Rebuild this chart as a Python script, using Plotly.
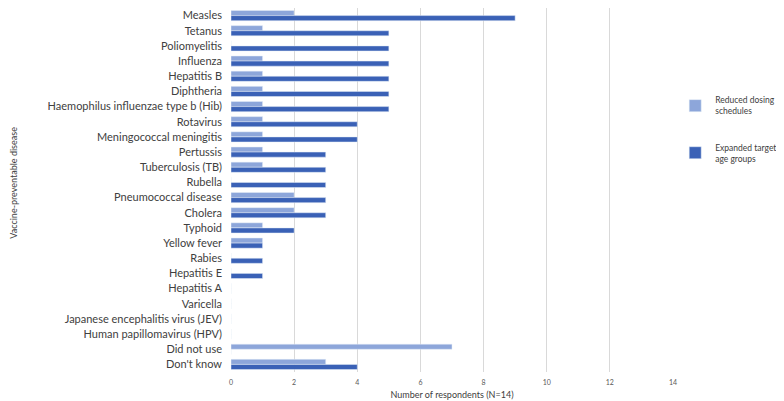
import plotly.graph_objects as go

# Survey data: respondents per disease for each strategy
diseases = [
    "Measles", "Tetanus", "Poliomyelitis", "Influenza", "Hepatitis B", "Diphtheria",
    "Haemophilus influenzae type b (Hib)", "Rotavirus", "Meningococcal meningitis",
    "Pertussis", "Tuberculosis (TB)", "Rubella", "Pneumococcal disease", "Cholera",
    "Typhoid", "Yellow fever", "Rabies", "Hepatitis E", "Hepatitis A", "Varicella",
    "Japanese encephalitis virus (JEV)", "Human papillomavirus (HPV)", "Did not use",
    "Don't know",
]
reduced_dosing = [2, 1, 0, 1, 1, 1, 1, 1, 1, 1, 1, 0, 2, 2, 1, 1, 0, 0, 0, 0, 0, 0, 7, 3]
expanded_age = [9, 5, 5, 5, 5, 5, 5, 4, 4, 3, 3, 3, 3, 3, 2, 1, 1, 1, 0, 0, 0, 0, 0, 4]
x_ticks = [0, 2, 4, 6, 8, 10, 12, 14]

LIGHT = "#8DA6DA"
DARK = "#3A61B6"
TEXT = "#404040"

# the page body adds an 8px margin, so the figure is drawn 8px smaller
W, H = 776, 393
ML, MR, MT, MB = 223, 111, 0, 29

fig = go.Figure()

fig.add_trace(go.Bar(
    y=diseases, x=reduced_dosing, orientation="h",
    name="Reduced dosing<br>schedules", marker_color=LIGHT,
    legendgroup="a",
))
fig.add_trace(go.Bar(
    y=diseases, x=expanded_age, orientation="h",
    name="Expanded target<br>age groups", marker_color=DARK,
    legendgroup="b",
))

fig.update_layout(
    width=W, height=H,
    barmode="group", bargap=0.33, bargroupgap=0,
    plot_bgcolor="white", paper_bgcolor="white",
    font=dict(family="Lato, sans-serif", color=TEXT),
    margin=dict(l=ML, r=MR, t=MT, b=MB, autoexpand=False),
    legend=dict(
        x=1.005, xanchor="left", y=0.78, yanchor="top",
        font=dict(size=8.5, color=TEXT),
        tracegroupgap=22, itemwidth=30,
    ),
    xaxis=dict(
        range=[0, 14], tickvals=x_ticks, automargin=False,
        showgrid=True, gridcolor="#D9D9D9", gridwidth=1,
        zeroline=False, showline=False,
        ticklabelstandoff=5,
        tickfont=dict(size=7, color="#595959"),
        title=dict(text="Number of respondents (N=14)", font=dict(size=9, color=TEXT), standoff=6),
    ),
    yaxis=dict(
        autorange="reversed", automargin=False,
        showgrid=False, zeroline=False, ticks="", ticklen=0,
        ticklabelstandoff=8,
        tickfont=dict(size=11, color=TEXT),
    ),
)

# y-axis title placed near the left edge, as in the original
fig.add_annotation(
    text="Vaccine-preventable disease", textangle=-90,
    xref="paper", yref="paper", x=(6 - ML) / (W - ML - MR), y=0.52,
    xanchor="center", yanchor="middle", showarrow=False,
    font=dict(size=9, color=TEXT),
)

fig.write_html("out.html")
